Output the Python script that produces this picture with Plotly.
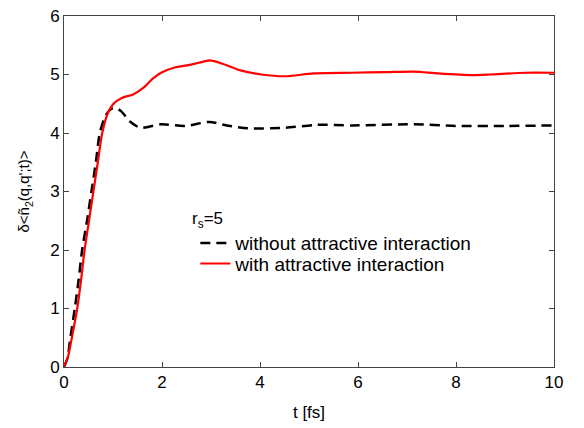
import plotly.graph_objects as go

# time axis [fs] and series values
t_without = [0, 0.07, 0.13, 0.22, 0.3, 0.37, 0.47, 0.56, 0.65, 0.73, 0.85, 0.96,
             1.05, 1.17, 1.34, 1.55, 1.75, 1.98, 2.47, 2.97, 3.32, 3.75, 4.52, 5.16,
             5.87, 7.14, 7.99, 9.0, 10]
y_without = [0, 0.15, 0.5, 1.0, 1.5, 2.0, 2.5, 3.0, 3.5, 4.0, 4.3, 4.41,
             4.43, 4.37, 4.2, 4.09, 4.11, 4.15, 4.12, 4.19, 4.13, 4.08, 4.09, 4.14,
             4.13, 4.15, 4.12, 4.12, 4.13]

t_with = [0, 0.08, 0.16, 0.27, 0.35, 0.42, 0.51, 0.6, 0.69, 0.78, 0.9, 1.01,
          1.18, 1.41, 1.63, 1.8, 1.98, 2.26, 2.54, 2.75, 2.97, 3.25, 3.6,
          4.03, 4.52, 5.09, 5.87, 6.57, 7.14, 7.63, 8.34, 8.69, 9.4, 10]
y_with = [0, 0.17, 0.5, 1.0, 1.5, 2.0, 2.5, 3.0, 3.5, 4.0, 4.35, 4.5,
          4.6, 4.66, 4.78, 4.92, 5.03, 5.12, 5.16, 5.2, 5.24, 5.18, 5.07,
          5.0, 4.97, 5.02, 5.03, 5.04, 5.05, 5.02, 4.99, 5.0, 5.03, 5.03]

x_ticks = [0, 2, 4, 6, 8, 10]
y_ticks = [0, 1, 2, 3, 4, 5, 6]

FONT = "Liberation Sans, Arial, sans-serif"

fig = go.Figure()
fig.add_trace(go.Scatter(
    x=t_without, y=y_without, mode="lines", name="without attractive interaction",
    line=dict(color="black", width=2.5, dash="10px,6px", shape="spline", smoothing=0.7),
    legend="legend",
))
fig.add_trace(go.Scatter(
    x=t_with, y=y_with, mode="lines", name="with attractive interaction",
    line=dict(color="#ff0000", width=2.2, shape="spline", smoothing=0.7),
    legend="legend2",
))

axis_common = dict(
    showline=True, linecolor="#444", linewidth=1, mirror="ticks",
    ticks="inside", ticklen=5, tickcolor="#444", tickwidth=1,
    showgrid=False, zeroline=False, ticklabeloverflow="allow",
    tickfont=dict(family=FONT, size=17, color="black"),
)

legend_common = dict(
    xanchor="left", yanchor="middle",
    bgcolor="rgba(0,0,0,0)", borderwidth=0,
    font=dict(family=FONT, size=19, color="black"),
    itemwidth=30,
)

fig.update_layout(
    width=584, height=428,
    margin=dict(l=64, r=30, t=7, b=61),
    paper_bgcolor="white", plot_bgcolor="white",
    font=dict(family=FONT, size=17, color="black"),
    xaxis=dict(range=[0, 10], tickvals=x_ticks,
               title=dict(text="t [fs]", font=dict(family=FONT, size=17), standoff=14),
               **axis_common),
    yaxis=dict(range=[0, 6], tickvals=y_ticks,
               title=dict(text="δ&lt;ñ<sub>2</sub>(q,q';t)&gt;", font=dict(family=FONT, size=15), standoff=16),
               **axis_common),
    showlegend=True,
    legend=dict(x=0.268, y=(367 - 240) / 360, **legend_common),
    legend2=dict(x=0.268, y=(367 - 261) / 360, **legend_common),
    annotations=[dict(
        text="r<sub>s</sub>=5", xref="paper", yref="paper",
        x=(190 - 64) / 490, y=(367 - 216) / 360, xanchor="left", yanchor="middle",
        showarrow=False, font=dict(family=FONT, size=17, color="black"),
    )],
)

fig.write_html("out.html", config={"displayModeBar": False},
               post_script="document.body.style.margin='0px';")
